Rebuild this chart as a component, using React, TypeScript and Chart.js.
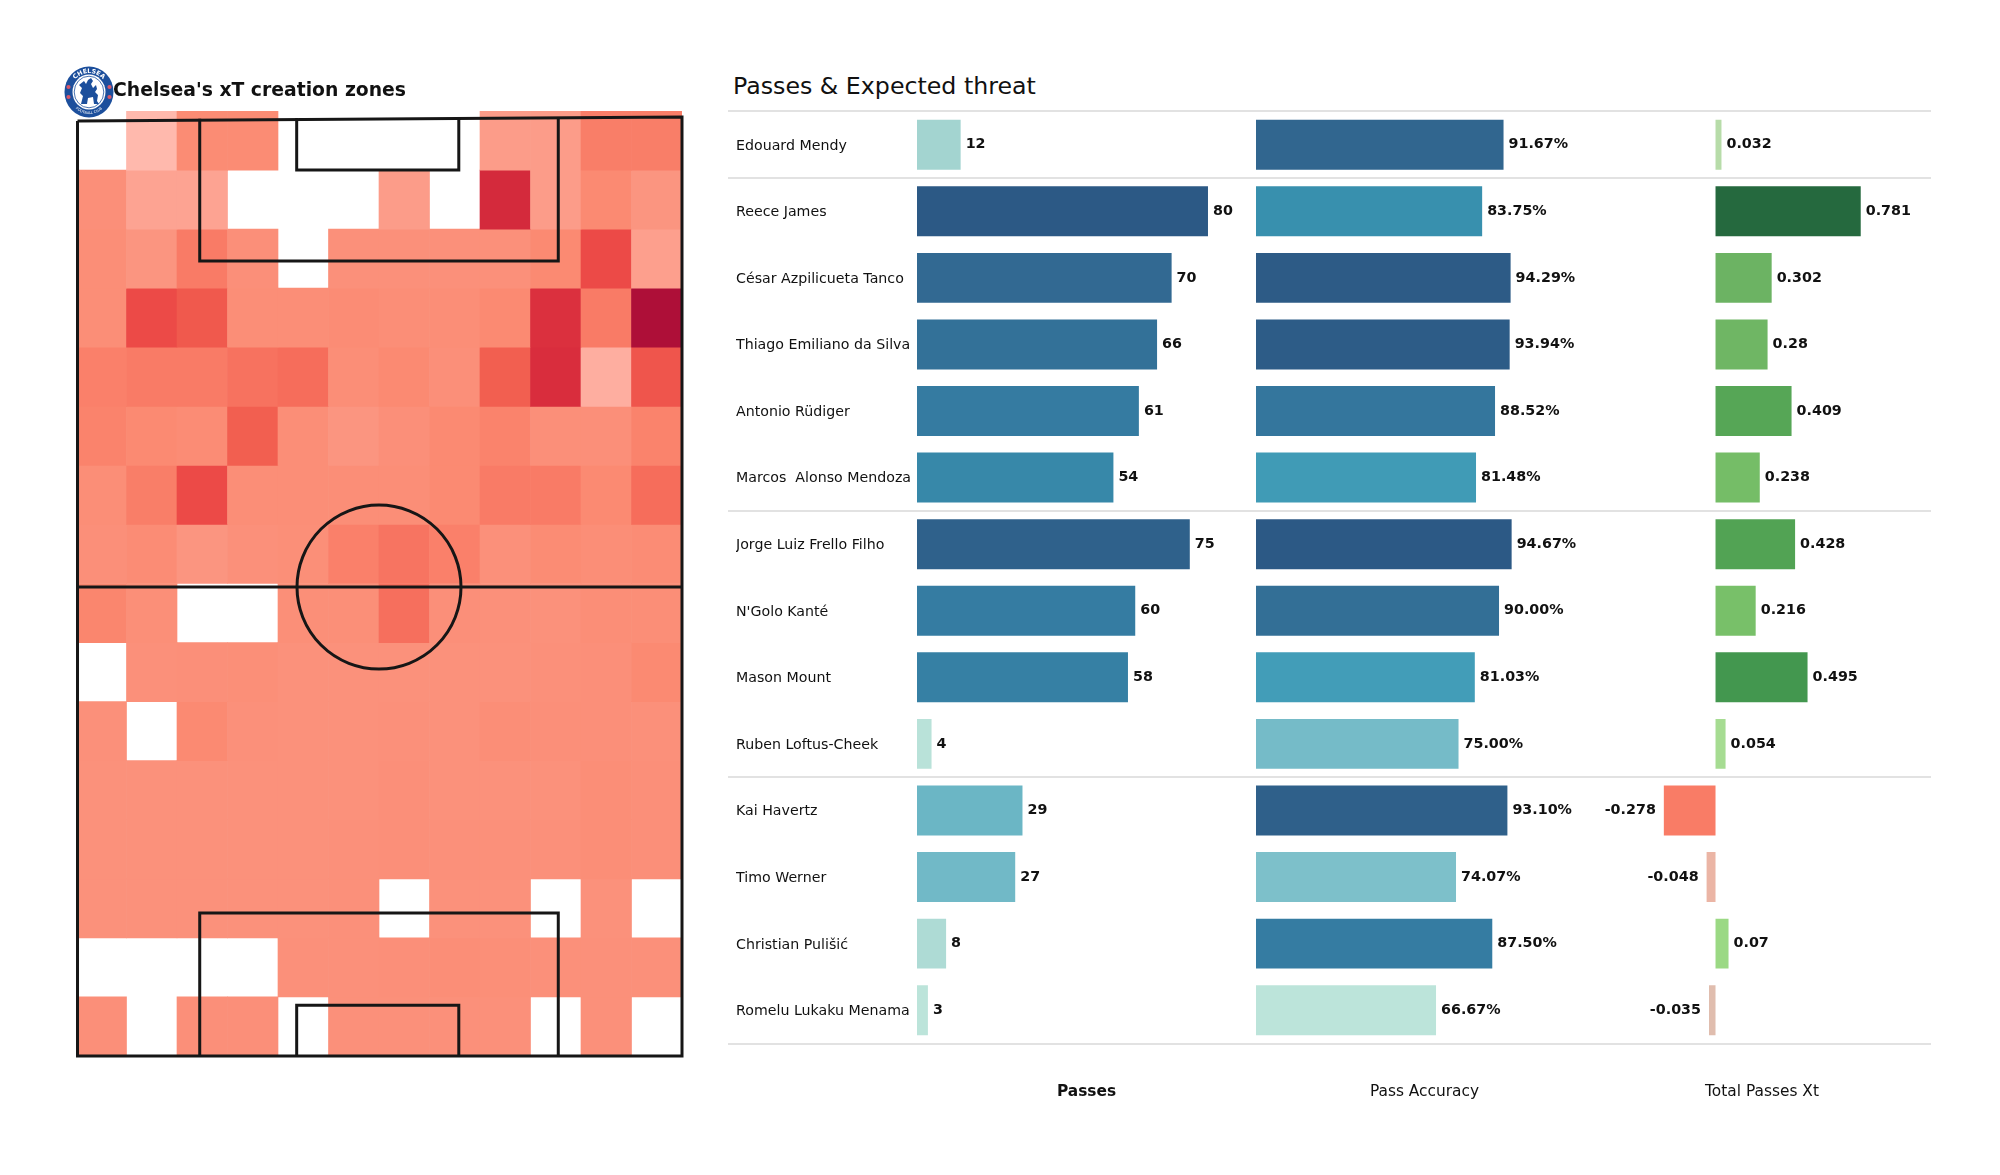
import React, { useEffect, useRef } from "react";
import { Chart, registerables } from "chart.js";

Chart.register(...registerables);

const FONT = "'DejaVu Sans', sans-serif";

const players = [
  "Edouard Mendy", "Reece James", "César Azpilicueta Tanco", "Thiago Emiliano da Silva",
  "Antonio Rüdiger", "Marcos  Alonso Mendoza", "Jorge Luiz Frello Filho", "N'Golo Kanté",
  "Mason Mount", "Ruben Loftus-Cheek", "Kai Havertz", "Timo Werner", "Christian Pulišić",
  "Romelu Lukaku Menama",
];
const passes = [12, 80, 70, 66, 61, 54, 75, 60, 58, 4, 29, 27, 8, 3];
const accuracy = [91.67, 83.75, 94.29, 93.94, 88.52, 81.48, 94.67, 90.0, 81.03, 75.0, 93.1, 74.07, 87.5, 66.67];
const xt = [0.032, 0.781, 0.302, 0.28, 0.409, 0.238, 0.428, 0.216, 0.495, 0.054, -0.278, -0.048, 0.07, -0.035];

// Divider lines sit between these rows (category index units)
const dividers = [-0.5, 0.5, 5.5, 9.5, 13.5];

const heat: (number | null)[][] = [
  [null, 0.0, 0.18, 0.18, null, null, null, null, 0.08, 0.08, 0.28, 0.28],
  [0.13, 0.06, 0.06, null, null, null, 0.08, null, 0.75, 0.08, 0.2, 0.1],
  [0.15, 0.1, 0.3, 0.13, null, 0.12, 0.12, 0.12, 0.12, 0.2, 0.52, 0.07],
  [0.15, 0.52, 0.45, 0.15, 0.15, 0.17, 0.15, 0.15, 0.2, 0.7, 0.3, 1.0],
  [0.27, 0.3, 0.3, 0.34, 0.36, 0.15, 0.2, 0.13, 0.42, 0.72, 0.03, 0.47],
  [0.25, 0.2, 0.17, 0.42, 0.15, 0.1, 0.13, 0.2, 0.25, 0.13, 0.13, 0.25],
  [0.15, 0.28, 0.52, 0.15, 0.15, 0.15, 0.15, 0.2, 0.3, 0.3, 0.2, 0.36],
  [0.13, 0.17, 0.1, 0.12, 0.14, 0.27, 0.33, 0.27, 0.12, 0.18, 0.15, 0.17],
  [0.23, 0.14, null, null, 0.14, 0.14, 0.35, 0.13, 0.12, 0.11, 0.15, 0.15],
  [null, 0.12, 0.13, 0.14, 0.11, 0.11, 0.11, 0.11, 0.11, 0.12, 0.13, 0.2],
  [0.12, null, 0.2, 0.12, 0.11, 0.11, 0.12, 0.11, 0.15, 0.13, 0.13, 0.12],
  [0.11, 0.11, 0.11, 0.11, 0.11, 0.11, 0.13, 0.11, 0.11, 0.11, 0.15, 0.13],
  [0.11, 0.11, 0.11, 0.11, 0.11, 0.12, 0.13, 0.12, 0.12, 0.12, 0.15, 0.13],
  [0.11, 0.11, 0.11, 0.11, 0.11, 0.12, null, 0.11, 0.11, null, 0.11, null],
  [null, null, null, null, 0.12, 0.12, 0.13, 0.15, 0.14, 0.12, 0.12, 0.12],
  [0.13, null, 0.13, 0.13, null, 0.12, 0.12, 0.12, 0.12, null, 0.12, null],
];
const heatColumns = heat[0].map((_, i) => String(i));

// Pitch markings, in heat-cell units (x 0..12, y 0..16)
const pitchOutline = [
  { x: 0.03, y: 0.17 }, { x: 12, y: 0.1 }, { x: 12, y: 16 }, { x: 0.03, y: 16 }, { x: 0.03, y: 0.17 },
];
const halfwayLine = [{ x: 0.03, y: 8.06 }, { x: 12, y: 8.06 }];
const topBox = [{ x: 2.45, y: 0.13 }, { x: 2.45, y: 2.54 }, { x: 9.55, y: 2.54 }, { x: 9.55, y: 0.12 }];
const topSix = [{ x: 4.37, y: 0.12 }, { x: 4.37, y: 1.0 }, { x: 7.58, y: 1.0 }, { x: 7.58, y: 0.11 }];
const bottomBox = [{ x: 2.45, y: 16 }, { x: 2.45, y: 13.58 }, { x: 9.55, y: 13.58 }, { x: 9.55, y: 16 }];
const bottomSix = [{ x: 4.37, y: 16 }, { x: 4.37, y: 15.14 }, { x: 7.58, y: 15.14 }, { x: 7.58, y: 16 }];
const centreSpot = [{ x: 6.0, y: 8.06 }];

type Stop = [number, [number, number, number]];
const hex = (h: string): [number, number, number] => [
  parseInt(h.slice(1, 3), 16), parseInt(h.slice(3, 5), 16), parseInt(h.slice(5, 7), 16),
];
const ramp = (stops: [number, string][]) => {
  const s: Stop[] = stops.map(([t, c]) => [t, hex(c)]);
  return (t: number) => {
    if (t <= s[0][0]) return `rgb(${s[0][1].join(",")})`;
    for (let i = 1; i < s.length; i++) {
      if (t <= s[i][0]) {
        const f = (t - s[i - 1][0]) / (s[i][0] - s[i - 1][0]);
        const c = s[i][1].map((v, k) => Math.round(s[i - 1][1][k] + (v - s[i - 1][1][k]) * f));
        return `rgb(${c.join(",")})`;
      }
    }
    return `rgb(${s[s.length - 1][1].join(",")})`;
  };
};
const heatRamp = ramp([
  [0, "#ffb9ad"], [0.06, "#fda392"], [0.11, "#fb917b"], [0.2, "#fb8a72"], [0.3, "#f97b66"],
  [0.42, "#f25f50"], [0.52, "#ec4a47"], [0.72, "#d92d3d"], [1, "#ae0f38"],
]);
const blueRamp = ramp([
  [0, "#bce4da"], [0.12, "#a2d4d0"], [0.3, "#74bbc8"], [0.5, "#439fb9"], [0.61, "#3890ae"],
  [0.75, "#357ba1"], [0.89, "#31668f"], [1, "#2c5985"],
]);
const greenRamp = ramp([
  [0.03, "#b8dcab"], [0.054, "#a6dc92"], [0.07, "#9bd984"], [0.216, "#78c069"], [0.3, "#6cb363"], [0.43, "#52a354"],
  [0.5, "#42964f"], [0.78, "#25693e"],
]);
const redRamp = ramp([[0.035, "#e0bdae"], [0.048, "#ebb5a5"], [0.278, "#f97c66"]]);

const blueColours = (vals: number[]) => {
  const lo = Math.min(...vals);
  const hi = Math.max(...vals);
  return vals.map((v) => blueRamp((v - lo) / (hi - lo)));
};
const xtColours = xt.map((v) => (v >= 0 ? greenRamp(v) : redRamp(-v)));

const barExtras = (format: (v: number) => string) => ({
  id: "barExtras",
  afterDatasetsDraw(chart: any) {
    const { ctx, scales } = chart;
    ctx.save();
    ctx.strokeStyle = "#d9d9d9";
    ctx.lineWidth = 1.5;
    dividers.forEach((d) => {
      const y = Math.round(scales.y.getPixelForValue(d));
      ctx.beginPath();
      ctx.moveTo(0, y);
      ctx.lineTo(chart.width, y);
      ctx.stroke();
    });
    ctx.font = `bold 14.3px ${FONT}`;
    ctx.fillStyle = "#111";
    ctx.textBaseline = "middle";
    chart.getDatasetMeta(0).data.forEach((bar: any, i: number) => {
      const v = chart.data.datasets[0].data[i];
      ctx.textAlign = v < 0 ? "right" : "left";
      ctx.fillText(format(v), bar.x + (v < 0 ? -8 : 5), bar.y);
    });
    ctx.restore();
  },
});

function BarPanel(props: {
  values: number[]; colours: string[]; title: string; bold?: boolean; left: number; width: number;
  min: number; max: number; names?: boolean; format: (v: number) => string;
}) {
  const ref = useRef<HTMLCanvasElement>(null);
  useEffect(() => {
    const chart = new Chart(ref.current!, {
      type: "bar",
      data: {
        labels: players,
        datasets: [{
          data: props.values, backgroundColor: props.colours, barPercentage: 0.75, categoryPercentage: 1,
        }],
      },
      options: {
        indexAxis: "y", animation: false, responsive: false, maintainAspectRatio: false,
        layout: { padding: { top: 11.4, left: props.names ? 8 : 0, right: 0, bottom: 0 } },
        plugins: { legend: { display: false }, tooltip: { enabled: false } },
        scales: {
          x: {
            min: props.min, max: props.max, grid: { display: false }, border: { display: false },
            ticks: { display: false },
            title: {
              display: true, text: props.title, color: "#111",
              font: { family: FONT, size: 15.4, weight: props.bold ? "bold" : "normal" },
              padding: { top: 0, bottom: 9 },
            },
            afterFit(s: any) { s.height = 66.5; },
          },
          y: {
            display: !!props.names, grid: { display: false }, border: { display: false },
            ticks: { color: "#111", font: { family: FONT, size: 14.2 }, crossAlign: "far", padding: 0, autoSkip: false, labelOffset: 1.2 },
            afterFit(s: any) { if (props.names) s.width = 181; },
          },
        },
      } as any,
      plugins: [barExtras(props.format)],
    });
    return () => chart.destroy();
  }, []);
  return (
    <canvas ref={ref} width={props.width} height={1010}
      style={{ position: "absolute", left: props.left, top: 100, width: props.width, height: 1010 }} />
  );
}

function Heatmap() {
  const ref = useRef<HTMLCanvasElement>(null);
  useEffect(() => {
    const lineStyle = {
      type: "line", xAxisID: "xp", borderColor: "#161616", borderWidth: 3, pointRadius: 0,
      fill: false, clip: false, tension: 0, order: -1,
    };
    const chart = new Chart(ref.current!, {
      type: "bar",
      data: {
        labels: heatColumns,
        datasets: [
          ...heat.map((row, r) => ({
            data: row.map((v) => (v === null ? null : [r, r + 1])),
            backgroundColor: row.map((v) => (v === null ? "#ffffff" : heatRamp(v))),
            borderWidth: 0,
            grouped: false, barPercentage: 1, categoryPercentage: 1,
            xAxisID: "x",
          })),
          ...[pitchOutline, halfwayLine, topBox, topSix, bottomBox, bottomSix].map((pts) => ({ ...lineStyle, data: pts })),
          {
            type: "scatter", xAxisID: "xp", data: centreSpot, pointRadius: 82, pointStyle: "circle",
            pointBackgroundColor: "rgba(0,0,0,0)", pointBorderColor: "#161616", pointBorderWidth: 3,
            clip: false, order: -1,
          },
        ] as any,
      },
      options: {
        animation: false, responsive: false, maintainAspectRatio: false,
        layout: { padding: 10, autoPadding: false },
        plugins: { legend: { display: false }, tooltip: { enabled: false } },
        scales: {
          x: { display: false, offset: true },
          xp: { type: "linear", display: false, min: 0, max: 12, offset: false },
          y: { display: false, min: 0, max: 16, reverse: true },
        },
      } as any,
    });
    return () => chart.destroy();
  }, []);
  return (
    <canvas ref={ref} width={626} height={965}
      style={{ position: "absolute", left: 66, top: 101, width: 626, height: 965 }} />
  );
}

function Crest() {
  return (
    <svg width="50" height="52" viewBox="0 0 50 52" style={{ position: "absolute", left: 64, top: 66 }}>
      <defs>
        <path id="crest-top" d="M6.5 26 A18.5 19 0 0 1 43.5 26" />
        <path id="crest-bottom" d="M5 27 A20 21 0 0 0 45 27" />
      </defs>
      <ellipse cx="25" cy="26" rx="24.5" ry="25.5" fill="#1c4f9c" />
      <ellipse cx="25" cy="26" rx="16.5" ry="17.5" fill="#ffffff" />
      <ellipse cx="25" cy="26" rx="14.8" ry="15.8" fill="none" stroke="#1c4f9c" strokeWidth="0.8" />
      <text fontFamily={FONT} fontWeight="bold" fontSize="6.2" fill="#ffffff" textAnchor="middle">
        <textPath href="#crest-top" startOffset="50%">CHELSEA</textPath>
      </text>
      <text fontFamily={FONT} fontSize="3.6" fill="#ffffff" textAnchor="middle">
        <textPath href="#crest-bottom" startOffset="50%">FOOTBALL CLUB</textPath>
      </text>
      {[[4.5, 21], [45.5, 21], [4.5, 31], [45.5, 31]].map(([x, y], i) => (
        <circle key={i} cx={x} cy={y} r="2.1" fill="#d8576b" />
      ))}
      <path d="M17 38 L19 30 L16 27 L18 22 L15 19 L20 15 L22 18 L24 14 L27 12 L29 15 L27 18 L29 22 L32 19 L33 23 L31 26 L34 29 L33 35 L35 38 L30 38 L29 31 L24 32 L23 38 Z" fill="#1c4f9c" />
    </svg>
  );
}

export default function App() {
  useEffect(() => {
    document.body.style.margin = "0";
    document.body.style.background = "#fff";
  }, []);
  return (
    <div style={{ position: "relative", width: 2000, height: 1175, fontFamily: FONT, overflow: "hidden", background: "#fff" }}>
      <Heatmap />
      <Crest />
      <div style={{ position: "absolute", left: 113, top: 77, fontWeight: "bold", fontSize: 18.8, lineHeight: "26px", color: "#111", whiteSpace: "nowrap" }}>
        Chelsea's xT creation zones
      </div>
      <div style={{ position: "absolute", left: 733, top: 70, fontSize: 23.7, lineHeight: "32px", color: "#111", whiteSpace: "nowrap" }}>
        Passes &amp; Expected threat
      </div>
      <BarPanel values={passes} colours={blueColours(passes)} title="Passes" bold names left={728} width={528} min={0} max={93.2} format={(v) => String(v)} />
      <BarPanel values={accuracy} colours={blueColours(accuracy)} title="Pass Accuracy" left={1256} width={337} min={0} max={124.8} format={(v) => `${v.toFixed(2)}%`} />
      <BarPanel values={xt} colours={xtColours} title="Total Passes Xt" left={1593} width={338} min={-0.659} max={1.159} format={(v) => String(v)} />
    </div>
  );
}
